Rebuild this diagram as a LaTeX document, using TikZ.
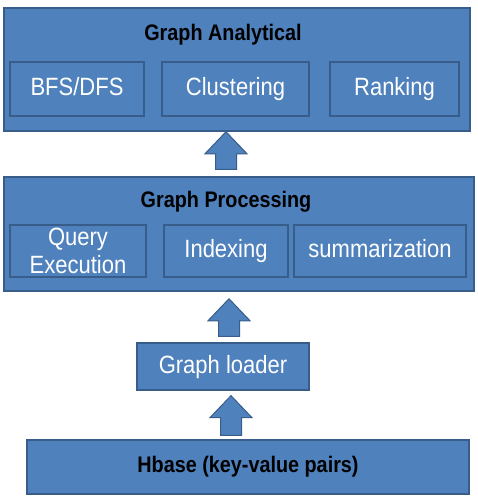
\documentclass[tikz,border=0pt]{standalone}
\usepackage{fontspec}
\newfontfamily\narrowsans[FakeStretch=0.88]{Liberation Sans}
\usetikzlibrary{positioning, calc}
\definecolor{boxblue}{RGB}{79,129,189}
\definecolor{edgeblue}{RGB}{56,93,138}

% block arrow: #1 lower node, #2 upper node, #3 x centre, #4 gap at tip, #5 gap at tail
\newcommand{\blockup}[5]{%
  \filldraw[bigarrow] let \p1=(#2.south), \p2=(#1.north) in
    (#3pt-10.5pt, \y2+#5pt) -- (#3pt-10.5pt, \y1-#4pt-22pt) -- (#3pt-21pt, \y1-#4pt-22pt)
    -- (#3pt, \y1-#4pt) -- (#3pt+21pt, \y1-#4pt-22pt) -- (#3pt+10.5pt, \y1-#4pt-22pt)
    -- (#3pt+10.5pt, \y2+#5pt) -- cycle;}

\begin{document}
\begin{tikzpicture}[x=1pt, y=-1pt, font=\narrowsans]
                \tikzstyle{outer} = [rectangle, draw=edgeblue, fill=boxblue, line width=1.5pt, inner sep=0pt]
                \tikzstyle{inner} = [rectangle, draw=edgeblue, fill=boxblue, line width=1.3pt, inner sep=0pt, minimum height=54pt, text=white, font=\narrowsans\fontsize{25}{25}\selectfont, align=center]
                \tikzstyle{oneline} = [text height=18pt, text depth=5pt]
                \tikzstyle{title} = [text=black, font=\narrowsans\bfseries\fontsize{22.5}{24}\selectfont]
                \tikzstyle{bigarrow} = [draw=edgeblue, fill=boxblue, line width=1pt]

                \useasboundingbox (0,0) rectangle (478,499);

                % Graph analytical layer (top)
                \node[outer, minimum width=466pt, minimum height=123pt] (analytical) at (237,69.5) {};
                \node[title] (analyticaltitle) at (223,35) {Graph Analytical};
                \node[inner, oneline, minimum width=134pt] (bfs) at (77,89) {BFS/DFS};
                \node[inner, oneline, minimum width=147pt] (clustering) at (235.5,89) {Clustering};
                \node[inner, oneline, minimum width=129pt] (ranking) at (394.5,89) {Ranking};

                % Graph processing layer (middle)
                \node[outer, minimum width=470pt, minimum height=114pt] (processing) at (239,234) {};
                \node[title] (processingtitle) at (226,202) {Graph Processing};
                \node[inner, minimum width=136pt, minimum height=52pt] (query) at (78,251) {Query\\[3pt]Execution};
                \node[inner, oneline, minimum width=124pt, minimum height=52pt] (indexing) at (226,251) {Indexing};
                \node[inner, oneline, minimum width=172pt, minimum height=52pt] (summary) at (380,251) {summarization};

                % Loader and storage (bottom)
                \node[inner, oneline, minimum width=172pt, minimum height=47pt] (loader) at (223,366.5) {Graph loader};
                \node[outer, minimum width=442pt, minimum height=54pt, title] (hbase) at (248,467) {Hbase (key-value pairs)};

                \blockup{processing}{analytical}{226}{0}{7}
                \blockup{loader}{processing}{229}{7}{6}
                \blockup{hbase}{loader}{231}{5}{4}
            \end{tikzpicture}
\end{document}
